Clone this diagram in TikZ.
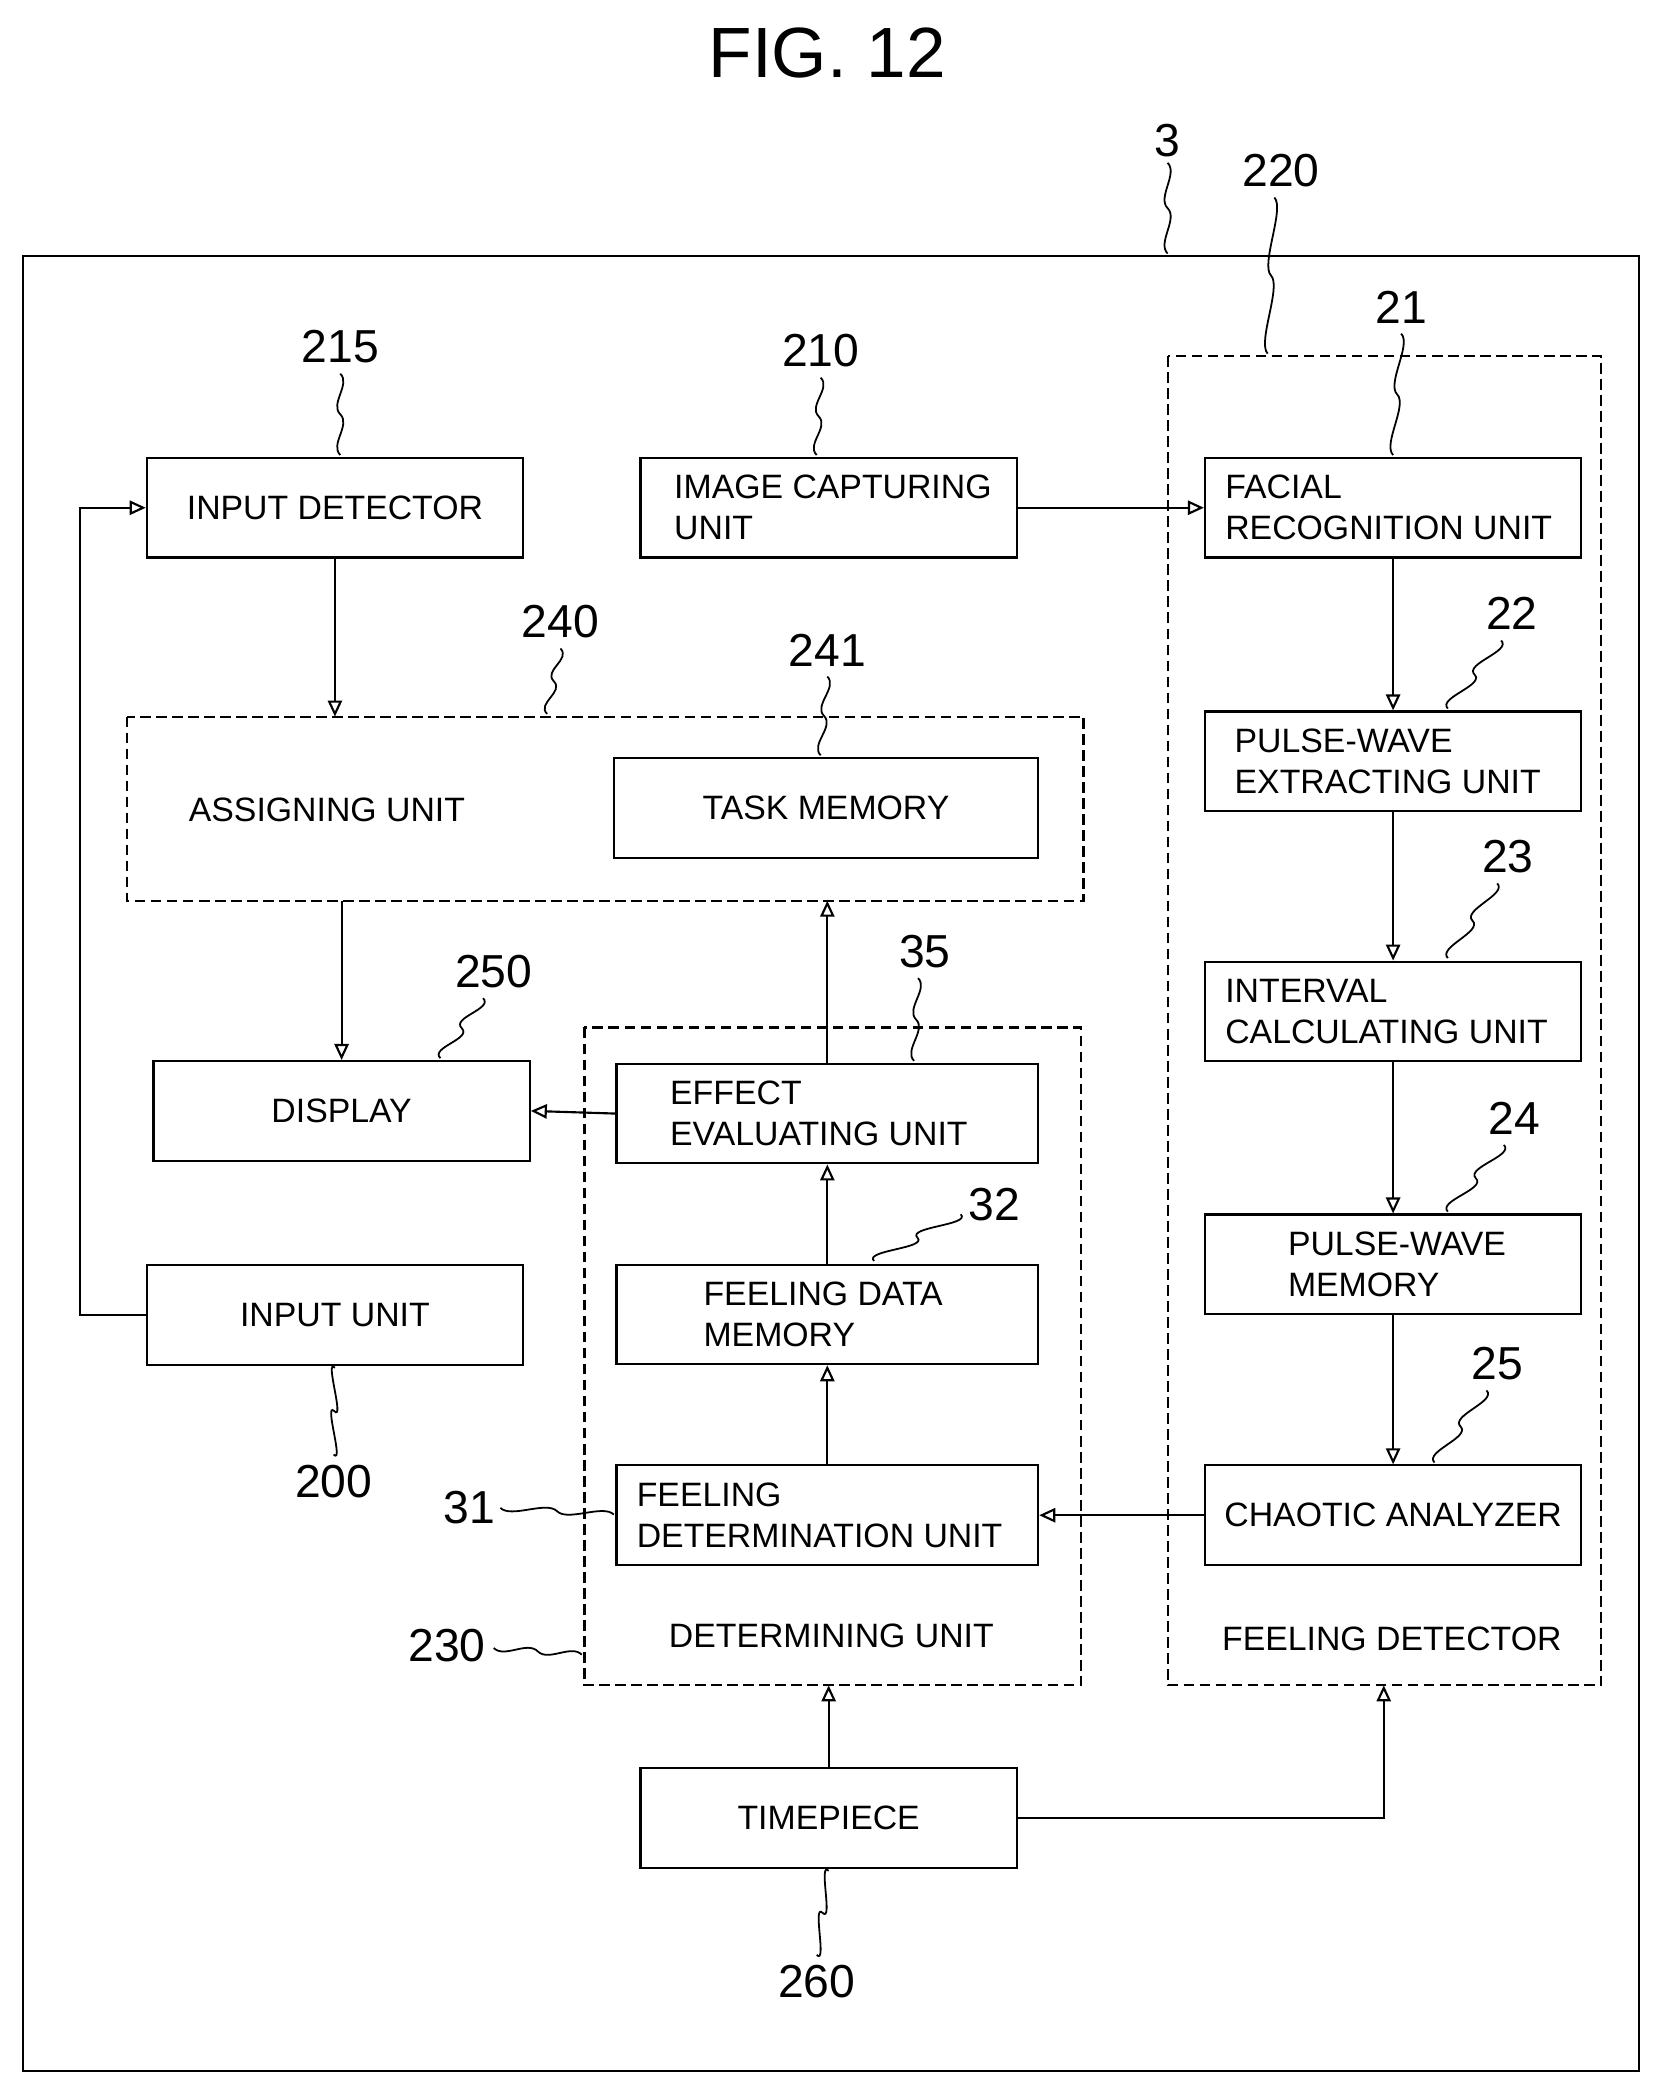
\documentclass[tikz,border=0pt]{standalone}
\usepackage{fontspec}
\setmainfont{Liberation Sans}
\usetikzlibrary{arrows.meta}
\tikzset{every picture/.style={line width=1.2pt}}
\tikzset{
  blk/.style={draw,minimum width=211.5pt,minimum height=56pt,inner sep=0pt,font=\fontsize{19}{23}\selectfont},
  grp/.style={draw,dash pattern={on 6pt off 3pt}},
  lbl/.style={font=\fontsize{26}{28}\selectfont,inner sep=1pt},
  arr/.style={-{Triangle[open,length=9pt,width=8pt]}},
  sq/.style={line width=1pt}
}
\newcommand{\squig}[2]{\draw[sq] #1 .. controls +(8,8) and +(-8,-8) .. ($#1!0.5!#2$) .. controls +(8,8) and +(-8,-8) .. #2;}
\usetikzlibrary{calc}
\begin{document}
\begin{tikzpicture}[x=0.75pt,y=0.75pt,yscale=-1,xscale=1]
\useasboundingbox (0,0) rectangle (1245,1570);

% outer frame
\draw (17,192) rectangle (1228,1552);
\node[font=\fontsize{40}{44}\selectfont] (fig) at (620,40) {FIG. 12};
\node[lbl] (n3) at (875,105) {3};
\squig{(875,122)}{(875,190)}

% groups
\draw[grp] (875,267) rectangle (1200,1263);
\node[lbl] (n220) at (960,128) {220};
\squig{(955,148)}{(950,265)}
\draw[grp] (95,537) rectangle (812,675);
\node[lbl] (n240) at (420,466) {240};
\squig{(420,486)}{(410,535)}
\draw[grp] (438,770) rectangle (810,1263);
\node[lbl] (n230) at (335,1233) {230};

% boxes
\node[blk] (face) at (1044,380.5) {};
\node[font=\fontsize{19}{23}\selectfont,align=left,anchor=west] at (913,380.5) {FACIAL\\RECOGNITION UNIT};
\node[blk] (pulse) at (1044,570.5) {};
\node[font=\fontsize{19}{23}\selectfont,align=left,anchor=west] at (920,570.5) {PULSE-WAVE\\EXTRACTING UNIT};
\node[blk] (intv) at (1044,758) {};
\node[font=\fontsize{19}{23}\selectfont,align=left,anchor=west] at (913,758) {INTERVAL\\CALCULATING UNIT};
\node[blk] (pmem) at (1044,947.5) {};
\node[font=\fontsize{19}{23}\selectfont,align=left,anchor=west] at (960,947.5) {PULSE-WAVE\\MEMORY};
\node[blk] (chaos) at (1044,1135.5) {CHAOTIC ANALYZER};
\node[font=\fontsize{19}{23}\selectfont] (fdl) at (1043,1228) {FEELING DETECTOR};

\node[blk] (indet) at (251,380.5) {INPUT DETECTOR};
\node[blk] (image) at (621,380.5) {};
\node[font=\fontsize{19}{23}\selectfont,align=left,anchor=west] at (500,380.5) {IMAGE CAPTURING\\UNIT};
\node[font=\fontsize{19}{23}\selectfont] (asg) at (245,607) {ASSIGNING UNIT};
\node[blk,minimum width=238.5pt] (task) at (619,605.5) {TASK MEMORY};
\node[blk] (disp) at (256,832.5) {DISPLAY};
\node[blk,minimum width=237pt] (effect) at (620,834.5) {};
\node[font=\fontsize{19}{23}\selectfont,align=left,anchor=west] at (497,834.5) {EFFECT\\EVALUATING UNIT};
\node[blk,minimum width=237pt] (fdata) at (620,985) {};
\node[font=\fontsize{19}{23}\selectfont,align=left,anchor=west] at (522,985) {FEELING DATA\\MEMORY};
\node[blk,minimum width=237pt] (fdet) at (620,1135.5) {};
\node[font=\fontsize{19}{23}\selectfont,align=left,anchor=west] at (472,1135.5) {FEELING\\DETERMINATION UNIT};
\node[font=\fontsize{19}{23}\selectfont] (dtl) at (623,1226) {DETERMINING UNIT};
\node[blk] (input) at (251,985.5) {INPUT UNIT};
\node[blk] (clock) at (621,1362.5) {TIMEPIECE};

% reference numerals
\node[lbl] (n21) at (1050,230) {21};
\squig{(1050,250)}{(1044,341)}
\node[lbl] (n22) at (1133,460) {22};
\squig{(1125,480)}{(1085,531)}
\node[lbl] (n23) at (1130,642) {23};
\squig{(1122,662)}{(1085,718)}
\node[lbl] (n24) at (1135,838) {24};
\squig{(1127,858)}{(1085,908)}
\node[lbl] (n25) at (1122,1022) {25};
\squig{(1114,1042)}{(1075,1096)}
\node[lbl] (n215) at (255,260) {215};
\squig{(255,280)}{(255,341)}
\node[lbl] (n210) at (615,263) {210};
\squig{(615,283)}{(612,341)}
\node[lbl] (n241) at (620,487) {241};
\squig{(620,507)}{(615,566)}
\node[lbl] (n250) at (370,728) {250};
\squig{(362,748)}{(330,793)}
\node[lbl] (n35) at (693,713) {35};
\squig{(688,733)}{(685,795)}
\node[lbl] (n32) at (745,903) {32};
\squig{(720,910)}{(655,945)}
\node[lbl] (n31) at (352,1130) {31};
\squig{(375,1130)}{(460,1135)}
\squig{(370,1235)}{(436,1240)}
\node[lbl] (n200) at (250,1110) {200};
\squig{(250,1090)}{(251,1025)}
\node[lbl] (n260) at (612,1485) {260};
\squig{(612,1465)}{(621,1402)}

% connections
\draw[arr] (input.west) -- (60,985.5) -- (60,380.5) -- (indet.west);
\draw[arr] (indet.south) -- (251,537);
\draw[arr] (image.east) -- (face.west);
\draw[arr] (face) -- (pulse);
\draw[arr] (pulse) -- (intv);
\draw[arr] (intv) -- (pmem);
\draw[arr] (pmem) -- (chaos);
\draw[arr] (chaos.west) -- (fdet.east);
\draw[arr] (fdet) -- (fdata);
\draw[arr] (fdata) -- (effect);
\draw[arr] (effect.north) -- (620,675);
\draw[arr] (effect.west) -- (disp.east);
\draw[arr] (256,675) -- (disp.north);
\draw[arr] (clock.north) -- (621,1263);
\draw[arr] (clock.east) -- (1037,1362.5) -- (1037,1263);
\end{tikzpicture}
\end{document}
